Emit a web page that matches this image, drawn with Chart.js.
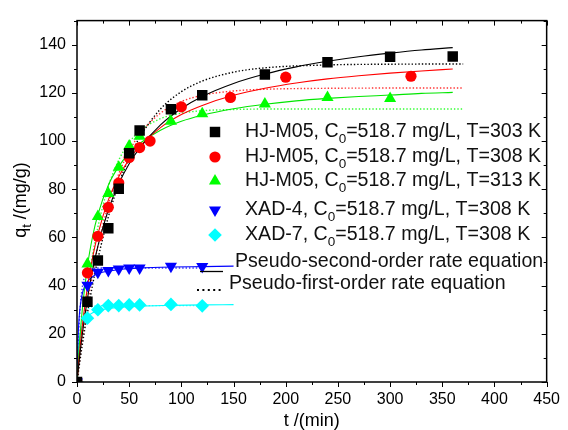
<!DOCTYPE html>
<html>
<head>
<meta charset="utf-8">
<script src="https://cdn.jsdelivr.net/npm/chart.js@4.4.0/dist/chart.umd.min.js"></script>
<style>
  html, body { margin: 0; padding: 0; background: #fff; }
  #wrap { width: 568px; height: 430px; }
</style>
</head>
<body>
<div id="wrap"><canvas id="kinetics" width="568" height="430"></canvas></div>
<script>
// Measured points (t in min, q in mg/g)
const tM303 = [0, 10, 20, 30, 40, 50, 60, 90, 120, 180, 240, 300, 360];
const qM303 = [0, 33.3, 50.4, 63.8, 80.2, 94.9, 104.4, 113.2, 119, 127.6, 132.7, 135, 135.1];
const tM308 = [0, 10, 20, 30, 40, 50, 60, 70, 100, 147, 200, 320];
const qM308 = [0, 45.3, 60.5, 72.5, 82.6, 93.2, 97.3, 100, 114.2, 118.1, 126.5, 126.9];
const tM313 = [0, 10, 20, 30, 40, 50, 60, 90, 120, 180, 240, 300];
const qM313 = [0, 49, 68.7, 78.2, 89.1, 98, 102, 108.2, 111.3, 115.4, 118.1, 117.7];
const tXad = [0, 10, 20, 30, 40, 50, 60, 90, 120];
const qXad4 = [0, 40.2, 45.6, 46.3, 46.9, 47.3, 47.3, 48, 47.9];
const qXad7 = [0, 26.5, 30, 31.7, 31.7, 32, 32, 32.2, 31.6];

// Fitted curves
const tSecond = [0, 2, 5, 10, 15, 20, 30, 40, 50, 60, 80, 100, 120, 150, 180, 210, 240, 270, 300, 330, 360];
const sec303 = [0, 8.5, 19.5, 34.6, 46.6, 56.4, 71.4, 82.3, 90.6, 97.1, 106.7, 113.5, 118.5, 123.9, 127.8, 130.8, 133.1, 135.0, 136.5, 137.8, 138.8];
const sec308 = [0, 10.2, 23.0, 39.4, 51.8, 61.4, 75.5, 85.2, 92.4, 97.8, 105.6, 111.0, 114.8, 119.0, 121.9, 124.1, 125.8, 127.1, 128.2, 129.1, 129.9];
const sec313 = [0, 13.9, 29.7, 48.1, 60.5, 69.5, 81.7, 89.5, 95.0, 99.0, 104.5, 108.2, 110.7, 113.4, 115.3, 116.7, 117.7, 118.5, 119.1, 119.8, 120.2];
const tFirst = [0, 2, 5, 10, 15, 20, 30, 40, 50, 60, 80, 100, 120, 150, 180, 240, 300, 370];
const fir303 = [0, 6.3, 15.2, 28.6, 40.5, 51.0, 68.5, 82.3, 93.0, 101.5, 113.3, 120.5, 124.9, 128.6, 130.4, 131.6, 131.9, 132.0];
const fir308 = [0, 7.3, 17.4, 32.3, 45.2, 56.1, 73.6, 86.4, 95.8, 102.8, 111.6, 116.4, 119.0, 120.8, 121.5, 121.9, 122.0, 122.0];
const fir313 = [0, 9.1, 21.4, 38.8, 52.9, 64.3, 81.1, 92.1, 99.4, 104.1, 109.3, 111.6, 112.6, 113.1, 113.3, 113.3, 113.3, 113.3];
const tXadSecond = [0, 1, 2, 3, 5, 7, 10, 15, 20, 30, 45, 60, 90, 120, 150];
const secXad4 = [0, 18.2, 26.5, 31.2, 36.5, 39.3, 41.7, 43.7, 45.0, 46.0, 46.9, 47.3, 47.7, 47.9, 48.1];
const secXad7 = [0, 10.8, 16.3, 19.5, 23.2, 25.3, 27.1, 28.7, 29.5, 30.5, 31.1, 31.5, 31.8, 32.0, 32.1];
const tXadFirst = [0, 1, 2, 3, 5, 7, 10, 15, 20, 30, 60, 90, 120];
const firXad4 = [0, 14.0, 23.8, 30.7, 39.1, 43.2, 45.9, 47.1, 47.3, 47.3, 47.3, 47.3, 47.3];
const firXad7 = [0, 8.2, 14.3, 18.8, 24.6, 27.8, 30.1, 31.3, 31.6, 31.7, 31.7, 31.7, 31.7];

// Legend text: [before subscript, subscript, after]
const legendNames = [
  ['HJ-M05, C', '0', '=518.7 mg/L, T=303 K'],
  ['HJ-M05, C', '0', '=518.7 mg/L, T=308 K'],
  ['HJ-M05, C', '0', '=518.7 mg/L, T=313 K'],
  ['XAD-4, C', '0', '=518.7 mg/L, T=308 K'],
  ['XAD-7, C', '0', '=518.7 mg/L, T=308 K']
];
const fitNames = ['Pseudo-second-order rate equation', 'Pseudo-first-order rate equation'];

const FONT = "'Liberation Sans', Arial, sans-serif";
const pts = (xs, ys) => xs.map((x, i) => ({ x, y: ys[i] }));

const markerStyles = [
  { pointStyle: 'rect', radius: 7.4, rotation: 0, color: '#000000' },
  { pointStyle: 'circle', radius: 5.6, rotation: 0, color: '#ff0000' },
  { pointStyle: 'triangle', radius: 7, rotation: 0, color: '#00ff00' },
  { pointStyle: 'triangle', radius: 7, rotation: 180, color: '#0000ff' },
  { pointStyle: 'rectRot', radius: 6.8, rotation: 0, color: '#00ffff' }
];

function markers(data, i) {
  const s = markerStyles[i];
  return {
    data, showLine: false, order: 0,
    pointStyle: s.pointStyle, pointRadius: s.radius, pointRotation: s.rotation,
    backgroundColor: s.color, borderColor: s.color, pointBorderWidth: 0
  };
}

function curve(data, color, dotted) {
  return {
    data, showLine: true, order: 1, pointRadius: 0,
    borderColor: color, borderWidth: dotted ? 1.4 : 1.1,
    borderDash: dotted ? [1.4, 2] : [],
    cubicInterpolationMode: 'monotone', fill: false
  };
}

// frame, ticks, axis titles and legend
const decor = {
  id: 'decor',
  afterDraw(chart) {
    const { ctx, chartArea: a, scales: { x, y } } = chart;
    const seg = (x1, y1, x2, y2) => { ctx.beginPath(); ctx.moveTo(x1, y1); ctx.lineTo(x2, y2); ctx.stroke(); };
    ctx.save();
    ctx.strokeStyle = '#000';
    ctx.lineWidth = 1;
    for (let v = 0; v <= 450; v += 25) {
      const px = Math.round(x.getPixelForValue(v)) + 0.5;
      const len = v % 50 === 0 ? 5 : 3;
      seg(px, a.bottom, px, a.bottom + len);
      seg(px, a.top, px, a.top + len);
    }
    for (let v = 0; v <= 150; v += 10) {
      const py = Math.round(y.getPixelForValue(v)) + 0.5;
      const len = v % 20 === 0 ? 5 : 3;
      seg(a.left, py, a.left - len, py);
      seg(a.right, py, a.right - len, py);
    }
    ctx.lineWidth = 1.5;
    ctx.strokeRect(a.left, a.top, a.right - a.left, a.bottom - a.top);

    ctx.fillStyle = '#000';
    // x title
    ctx.font = '18px ' + FONT;
    ctx.textAlign = 'center';
    ctx.textBaseline = 'alphabetic';
    ctx.fillText('t /(min)', (a.left + a.right) / 2, 426);
    // y title with subscript
    ctx.save();
    ctx.translate(26, 200);
    ctx.rotate(-Math.PI / 2);
    ctx.textAlign = 'left';
    const p1 = 'q', p2 = 't', p3 = ' /(mg/g)';
    ctx.font = '18px ' + FONT;
    const w1 = ctx.measureText(p1).width, w3 = ctx.measureText(p3).width;
    ctx.font = '13px ' + FONT;
    const w2 = ctx.measureText(p2).width;
    let sx = -(w1 + w2 + w3) / 2;
    ctx.font = '18px ' + FONT;
    ctx.fillText(p1, sx, 0); sx += w1;
    ctx.font = '13px ' + FONT;
    ctx.fillText(p2, sx, 5); sx += w2;
    ctx.font = '18px ' + FONT;
    ctx.fillText(p3, sx, 0);
    ctx.restore();

    // legend
    const rowsY = [132, 157, 181, 210, 235];
    ctx.textAlign = 'left';
    ctx.textBaseline = 'middle';
    legendNames.forEach((parts, i) => {
      const s = markerStyles[i];
      ctx.fillStyle = s.color;
      ctx.strokeStyle = s.color;
      Chart.helpers.drawPoint(ctx, { pointStyle: s.pointStyle, rotation: s.rotation, radius: s.radius, borderWidth: 0 }, 215, rowsY[i]);
      ctx.fillStyle = '#111';
      let tx = 245;
      ctx.font = '19.6px ' + FONT;
      ctx.fillText(parts[0], tx, rowsY[i]); tx += ctx.measureText(parts[0]).width;
      ctx.font = '13.5px ' + FONT;
      ctx.fillText(parts[1], tx, rowsY[i] + 7); tx += ctx.measureText(parts[1]).width;
      ctx.font = '19.6px ' + FONT;
      ctx.fillText(parts[2], tx, rowsY[i]);
    });
    ctx.strokeStyle = '#000';
    ctx.lineWidth = 1.3;
    seg(200, 271.5, 223, 271.5);
    ctx.fillText(fitNames[0], 235, 262);
    ctx.lineWidth = 2;
    ctx.setLineDash([2, 3.4]);
    seg(197, 290, 222, 290);
    ctx.setLineDash([]);
    ctx.fillText(fitNames[1], 229, 284);
    ctx.restore();
  }
};

new Chart(document.getElementById('kinetics'), {
  type: 'scatter',
  data: {
    datasets: [
      markers(pts(tM303, qM303), 0),
      markers(pts(tM308, qM308), 1),
      markers(pts(tM313, qM313), 2),
      markers(pts(tXad, qXad4), 3),
      markers(pts(tXad, qXad7), 4),
      curve(pts(tSecond, sec303), '#000000', false),
      curve(pts(tSecond, sec308), '#ff0000', false),
      curve(pts(tSecond, sec313), '#00e600', false),
      curve(pts(tXadSecond, secXad4), '#0000ff', false),
      curve(pts(tXadSecond, secXad7), '#00ffff', false),
      curve(pts(tFirst, fir303), '#000000', true),
      curve(pts(tFirst, fir308), '#ff3333', true),
      curve(pts(tFirst, fir313), '#33ff33', true),
      curve(pts(tXadFirst, firXad4), '#3333ff', true),
      curve(pts(tXadFirst, firXad7), '#33ffff', true)
    ]
  },
  options: {
    responsive: false,
    animation: false,
    events: [],
    layout: { padding: { left: 0, right: 18, top: 14, bottom: 0 } },
    plugins: { legend: { display: false }, tooltip: { enabled: false } },
    scales: {
      x: {
        type: 'linear', min: 0, max: 450,
        grid: { display: false, drawTicks: false },
        border: { display: false },
        ticks: {
          stepSize: 50, padding: 8, maxRotation: 0, autoSkip: false,
          color: '#000', font: { size: 16, family: FONT }
        },
        afterFit(scale) { scale.height = 48; }
      },
      y: {
        type: 'linear', min: 0, max: 150,
        grid: { display: false, drawTicks: false },
        border: { display: false },
        ticks: {
          stepSize: 10, padding: 11, autoSkip: false,
          color: '#000', font: { size: 16, family: FONT },
          callback: v => (v % 20 === 0 ? v : '')
        },
        afterFit(scale) { scale.width = 77; }
      }
    }
  },
  plugins: [decor]
});
</script>
</body>
</html>
